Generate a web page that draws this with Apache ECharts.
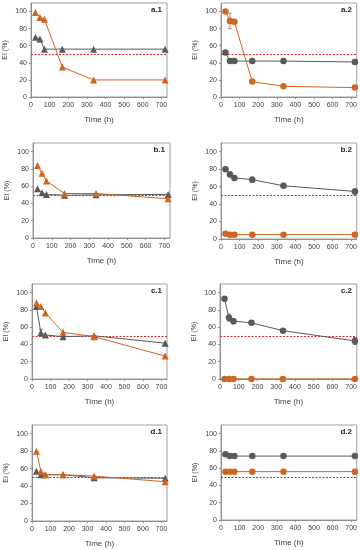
<!DOCTYPE html>
<html>
<head>
<meta charset="utf-8">
<script src="https://cdn.jsdelivr.net/npm/echarts@6/dist/echarts.min.js"></script>
<style>
html,body{margin:0;padding:0;background:#fff;}
#chart{width:360px;height:550px;}
</style>
</head>
<body>
<div id="chart"></div>
<script>
// ---- data ----
const timeH = [24, 48, 72, 168, 336, 720];
const xTickValues = [0, 100, 200, 300, 400, 500, 600, 700];
const yTickValues = [0, 20, 40, 60, 80, 100];
const threshold = [50];
const panelLabels = ['a.1', 'a.2', 'b.1', 'b.2', 'c.1', 'c.2', 'd.1', 'd.2'];

const a1Orange = [99, 93, 91, 35, 20, 20];
const a1Gray   = [70, 68, 56, 56, 56, 56];
const a2Orange = [100, 89, 88, 18, 12.5, 11];
const a2Gray   = [52, 42, 42, 42, 42, 41];
const b1Orange = [84, 75, 66, 51.5, 51.5, 45.5];
const b1Gray   = [57, 52.5, 50.5, 49.5, 50, 50.5];
const b2Orange = [6, 5, 5, 5, 5, 5];
const b2Gray   = [80, 74, 70, 68, 61, 54.5];
const c1Orange = [88, 84, 76.5, 54, 49, 26.5];
const c1Gray   = [84, 53.5, 51, 49, 50, 41.5];
const c2Orange = [0, 0, 0, 0, 0, 0];
const c2Gray   = [93, 71, 67, 65, 56, 44];
const d1Orange = [80, 57, 53, 53, 51.5, 45];
const d1Gray   = [57, 53, 53, 53, 49.5, 49];
const d2Orange = [56, 56, 56, 56, 56, 56];
const d2Gray   = [76, 74, 74, 74, 74, 74];

// error bars (half-width, %)
const a2OrangeErr = [0, 9, 0, 0, 0, 0];
const a2GrayErr   = [0, 0, 0, 0, 0, 2.5];
const b2GrayErr   = [0, 3, 0, 3, 0, 3];
const c1GrayErr   = [0, 4, 0, 0, 0, 0];
const c2GrayErr   = [0, 4, 3, 0, 0, 4];
const zeroErr     = [0, 0, 0, 0, 0, 0];

// ---- layout ----
const ORANGE = '#cf6520';
const GRAY = '#595959';
const RED = '#d42a2a';
const panels = [
  {grid:{left:31, top:3,   width:136, height:94}, sym:'triangle', o:a1Orange, g:a1Gray, oe:zeroErr, ge:zeroErr},
  {grid:{left:221,top:3,   width:136, height:94}, sym:'circle',   o:a2Orange, g:a2Gray, oe:a2OrangeErr, ge:a2GrayErr},
  {grid:{left:33, top:143, width:137, height:95}, sym:'triangle', o:b1Orange, g:b1Gray, oe:zeroErr, ge:zeroErr},
  {grid:{left:221,top:143, width:136, height:96}, sym:'circle',   o:b2Orange, g:b2Gray, oe:zeroErr, ge:b2GrayErr},
  {grid:{left:32, top:284, width:135, height:95}, sym:'triangle', o:c1Orange, g:c1Gray, oe:zeroErr, ge:c1GrayErr},
  {grid:{left:220,top:284, width:137, height:95}, sym:'circle',   o:c2Orange, g:c2Gray, oe:zeroErr, ge:c2GrayErr},
  {grid:{left:32, top:425, width:135, height:96}, sym:'triangle', o:d1Orange, g:d1Gray, oe:zeroErr, ge:zeroErr},
  {grid:{left:221,top:425, width:136, height:95}, sym:'circle',   o:d2Orange, g:d2Gray, oe:zeroErr, ge:zeroErr}
];

const FONT = 'Liberation Sans, Arial, sans-serif';
const grids = [], xAxes = [], yAxes = [], series = [], titles = [];

function pairs(vals) { return timeH.map((t, i) => [t, vals[i]]); }
function errData(vals, errs) {
  const out = [];
  timeH.forEach((t, i) => { if (errs[i] > 0) out.push([t, vals[i] - errs[i], vals[i] + errs[i]]); });
  return out;
}
function errSeries(idx, vals, errs, color) {
  return {
    type: 'custom', xAxisIndex: idx, yAxisIndex: idx, z: 1, silent: true,
    data: errData(vals, errs),
    renderItem: function (params, api) {
      const x = api.value(0);
      const lo = api.coord([x, api.value(1)]);
      const hi = api.coord([x, api.value(2)]);
      const w = 2;
      const st = {stroke: color, lineWidth: 0.8};
      return {type: 'group', children: [
        {type: 'line', shape: {x1: lo[0], y1: lo[1], x2: hi[0], y2: hi[1]}, style: st},
        {type: 'line', shape: {x1: lo[0]-w, y1: lo[1], x2: lo[0]+w, y2: lo[1]}, style: st},
        {type: 'line', shape: {x1: hi[0]-w, y1: hi[1], x2: hi[0]+w, y2: hi[1]}, style: st}
      ]};
    }
  };
}

panels.forEach((p, i) => {
  grids.push(Object.assign({show: true, borderColor: '#a0a0a0', borderWidth: 1, containLabel: false}, p.grid));
  xAxes.push({
    type: 'value', gridIndex: i, min: 0, max: 730, interval: 100,
    name: 'Time (h)', nameLocation: 'middle', nameGap: 19,
    nameTextStyle: {fontSize: 8, color: '#404040', fontFamily: FONT},
    axisLine: {show: true, lineStyle: {color: '#909090', width: 1}},
    axisTick: {show: true, length: 2, inside: false, lineStyle: {color: '#909090'},
               customValues: xTickValues},
    axisLabel: {fontSize: 7, color: '#404040', margin: 5, fontFamily: FONT, customValues: xTickValues},
    splitLine: {show: false}
  });
  yAxes.push({
    type: 'value', gridIndex: i, min: 0, max: 110, interval: 20,
    name: 'EI (%)', nameLocation: 'middle', nameGap: 22, nameRotate: 90,
    nameTextStyle: {fontSize: 7, color: '#404040', fontFamily: FONT},
    axisLine: {show: true, lineStyle: {color: '#909090', width: 1}},
    axisTick: {show: true, length: 2, lineStyle: {color: '#909090'}, customValues: yTickValues},
    axisLabel: {fontSize: 7, color: '#404040', margin: 4, fontFamily: FONT, customValues: yTickValues},
    splitLine: {show: false}
  });
  const symSize = p.sym === 'triangle' ? 7 : 6.5;
  series.push({
    type: 'line', xAxisIndex: i, yAxisIndex: i, data: pairs(p.g), z: 2,
    symbol: p.sym, symbolSize: symSize, showAllSymbol: true,
    lineStyle: {color: GRAY, width: 1}, itemStyle: {color: GRAY},
    animation: false,
    markLine: {
      silent: true, symbol: 'none', label: {show: false}, animation: false, z: 1,
      itemStyle: {color: RED},
      lineStyle: {color: RED, type: [2, 1.5], width: 1, opacity: 1},
      data: [{yAxis: threshold[0], lineStyle: {color: RED}}]
    }
  });
  series.push({
    type: 'line', xAxisIndex: i, yAxisIndex: i, data: pairs(p.o), z: 3, clip: false,
    symbol: p.sym, symbolSize: symSize, showAllSymbol: true,
    lineStyle: {color: ORANGE, width: 1}, itemStyle: {color: ORANGE},
    animation: false
  });
  series.push(errSeries(i, p.g, p.ge, GRAY));
  series.push(errSeries(i, p.o, p.oe, ORANGE));
  titles.push({
    text: panelLabels[i],
    right: 360 - (p.grid.left + p.grid.width) + 5,
    top: p.grid.top + 3,
    padding: 0,
    textStyle: {fontSize: 8, fontWeight: 'bold', color: '#262626', fontFamily: FONT}
  });
});

const chart = echarts.init(document.getElementById('chart'), null, {renderer: 'canvas'});
chart.setOption({
  animation: false,
  backgroundColor: '#ffffff',
  title: titles,
  grid: grids,
  xAxis: xAxes,
  yAxis: yAxes,
  series: series
});
</script>
</body>
</html>
